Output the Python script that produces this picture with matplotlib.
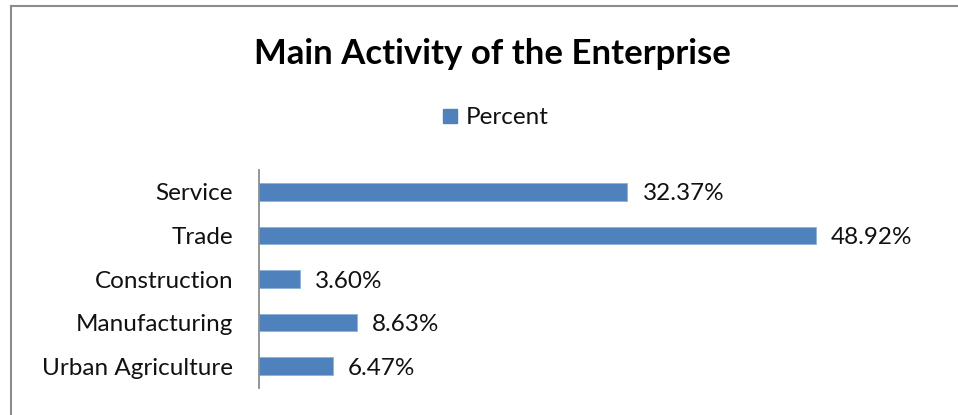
import matplotlib
matplotlib.use("Agg")
import matplotlib.pyplot as plt
from matplotlib.lines import Line2D
from matplotlib.patches import Rectangle

categories = ["Service", "Trade", "Construction", "Manufacturing", "Urban Agriculture"]
values = [32.37, 48.92, 3.60, 8.63, 6.47]
series_name = "Percent"
title = "Main Activity of the Enterprise"

W, H = 958, 415
plt.rcParams['font.family'] = ['Lato', 'DejaVu Sans']
fig = plt.figure(figsize=(W / 100, H / 100), dpi=100)

# border (left and top visible)
fig.add_artist(Line2D([10.5 / W, 10.5 / W], [0, 1 - 6.5 / H], color="#8c8c8c", lw=1.5, transform=fig.transFigure))
fig.add_artist(Line2D([10.5 / W, 1], [1 - 6.5 / H, 1 - 6.5 / H], color="#8c8c8c", lw=1.5, transform=fig.transFigure))

ax_l, ax_r, ax_t, ax_b = 259, 942, 170, 388
ax = fig.add_axes([ax_l / W, (H - ax_b) / H, (ax_r - ax_l) / W, (ax_b - ax_t) / H])

fs = 17.5
color = "#4F81BD"
ypos = list(range(len(categories)))[::-1]
bars = ax.barh(ypos, values, height=0.4, color=color, edgecolor="#8eb0d9", linewidth=0.6)
ax.set_ylim(-0.5, len(categories) - 0.5)
ax.set_xlim(0, 60)
ax.set_yticks(ypos)
ax.set_yticklabels(categories, fontsize=fs, color="#111111")
ax.tick_params(axis='y', length=0, pad=26 * 72 / 100)
ax.set_xticks([])
for s in ["top", "right", "bottom"]:
    ax.spines[s].set_visible(False)
ax.spines["left"].set_color("#8c8c8c")
ax.spines["left"].set_linewidth(1.3)

for b, v in zip(bars, values):
    ax.annotate(f"{v:.2f}%", (b.get_width(), b.get_y() + b.get_height() / 2),
                xytext=(15, -2), textcoords="offset pixels", va="center", ha="left",
                fontsize=fs, color="#111111")

fig.text(492 / W, 1 - 54 / H, title, ha="center", va="center", fontsize=25, fontweight="bold", color="#000000")

# legend
fig.add_artist(Rectangle((443 / W, 1 - 123 / H), 14 / W, 14 / H, transform=fig.transFigure, color=color))
fig.text(466 / W, 1 - 118 / H, series_name, ha="left", va="center", fontsize=fs, color="#111111")

fig.savefig("out.png", dpi=100, facecolor="white")
